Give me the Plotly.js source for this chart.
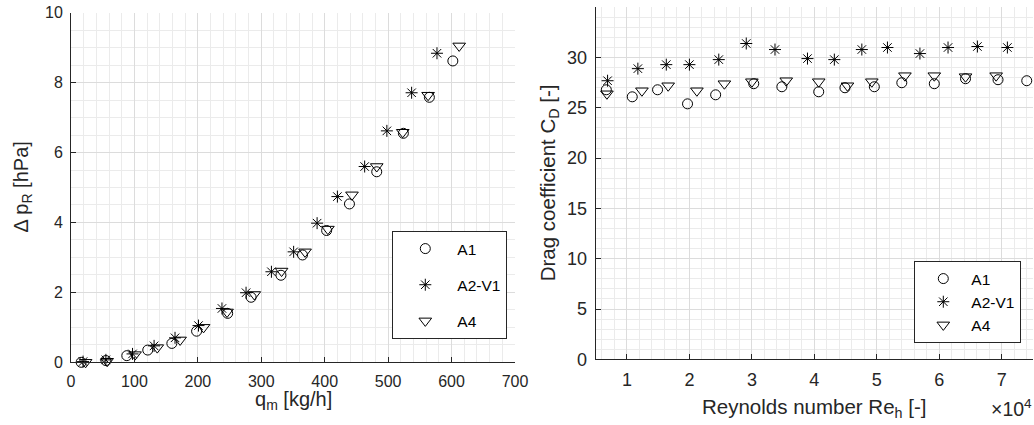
<!DOCTYPE html>
<html><head><meta charset="utf-8">
<script src="https://cdn.plot.ly/plotly-3.0.1.min.js"></script>
<style>html,body{margin:0;padding:0;background:#fff}</style>
</head><body><div id="chart" style="width:1034px;height:425px"></div>
<script>
// Left panel: pressure drop vs mass flow
const qA1  = [16, 55, 88, 121, 159, 198, 247, 284, 331, 365, 403, 439, 482, 524, 565, 602];
const dpA1 = [0.0, 0.05, 0.19, 0.35, 0.54, 0.89, 1.40, 1.86, 2.49, 3.07, 3.77, 4.53, 5.45, 6.55, 7.58, 8.62];
const qA2  = [19, 55, 97, 131, 164, 201, 238, 276, 316, 351, 388, 420, 463, 498, 537, 577];
const dpA2 = [0.02, 0.07, 0.24, 0.47, 0.70, 1.05, 1.54, 1.99, 2.59, 3.16, 3.98, 4.74, 5.60, 6.62, 7.71, 8.84];
const qA4  = [23, 57, 101, 136, 172, 209, 246, 289, 332, 369, 405, 443, 482, 523, 563, 612];
const dpA4 = [0.0, 0.03, 0.22, 0.42, 0.64, 1.00, 1.44, 1.94, 2.61, 3.16, 3.81, 4.79, 5.60, 6.58, 7.64, 9.05];

// Right panel: drag coefficient vs Reynolds number
const reA1 = [6700, 10850, 14900, 19700, 24200, 30300, 34800, 40700, 44900, 49600, 54000, 59200, 64200, 69400, 74000];
const cdA1 = [26.8, 26.1, 26.8, 25.4, 26.3, 27.4, 27.1, 26.6, 27.0, 27.1, 27.5, 27.4, 27.9, 27.8, 27.7];
const reA2 = [6900, 11750, 16300, 20000, 24700, 29100, 33700, 38900, 43200, 47600, 51700, 56900, 61400, 66100, 70900];
const cdA2 = [27.7, 28.9, 29.3, 29.3, 29.8, 31.4, 30.8, 29.9, 29.8, 30.8, 31.0, 30.4, 31.0, 31.1, 31.0];
const reA4 = [6800, 12400, 16600, 21200, 25600, 30000, 35500, 40700, 45300, 49200, 54500, 59200, 64200, 69100];
const cdA4 = [26.4, 26.7, 27.2, 26.7, 27.4, 27.6, 27.7, 27.6, 27.2, 27.6, 28.2, 28.2, 28.1, 28.2];

const seriesNames = ['A1', 'A2-V1', 'A4'];
const reTickVals = [10000, 20000, 30000, 40000, 50000, 60000, 70000];
const reTickText = ['1', '2', '3', '4', '5', '6', '7'];

const FONT = 'Liberation Sans, Arial, sans-serif';
const INK = '#262626';
const mk = {
  circle: {symbol: 'circle-open', size: 10, color: '#000', line: {width: 1, color: '#000'}},
  star:   {symbol: 'asterisk-open', size: 10, color: '#000', line: {width: 1, color: '#000'}},
  tri:    {symbol: 'triangle-down-open', size: 11, color: '#000', line: {width: 1, color: '#000'}}
};
function tr(x, y, name, m, xa, ya, leg, grp) {
  return {x: x, y: y, name: name, type: 'scatter', mode: 'markers', marker: m,
          xaxis: xa, yaxis: ya, legend: leg, legendgroup: grp, cliponaxis: false};
}
const data = [
  tr(qA1, dpA1, seriesNames[0], mk.circle, 'x', 'y', 'legend', 'l1'),
  tr(qA2, dpA2, seriesNames[1], mk.star, 'x', 'y', 'legend', 'l2'),
  tr(qA4, dpA4, seriesNames[2], mk.tri, 'x', 'y', 'legend', 'l3'),
  tr(reA1, cdA1, seriesNames[0], mk.circle, 'x2', 'y2', 'legend2', 'r1'),
  tr(reA2, cdA2, seriesNames[1], mk.star, 'x2', 'y2', 'legend2', 'r2'),
  tr(reA4, cdA4, seriesNames[2], mk.tri, 'x2', 'y2', 'legend2', 'r3')
];

function ax(extra, fs) {
  return Object.assign({
    showline: true, linecolor: INK, linewidth: 1, mirror: false,
    ticks: 'inside', ticklen: 5, tickcolor: INK, tickwidth: 1,
    showgrid: true, gridcolor: '#dcdcdc', gridwidth: 1,
    zeroline: false, tickfont: {family: FONT, size: fs, color: INK},
    ticklabelstandoff: 4, fixedrange: true
  }, extra);
}

const W = 1034, H = 425;
const layout = {
  width: W, height: H,
  margin: {l: 0, r: 0, t: 0, b: 0},
  paper_bgcolor: '#fff', plot_bgcolor: '#fff',
  font: {family: FONT, size: 15, color: INK},
  showlegend: true,
  xaxis: ax({domain: [71/W, 515/W], range: [0, 700], dtick: 100, tick0: 0, anchor: 'y',
             minor: {dtick: 20, tick0: 0, showgrid: true, gridcolor: '#ebebeb', gridwidth: 1}}, 16),
  yaxis: ax({domain: [(H-362.3)/H, (H-12.7)/H], range: [0, 10], dtick: 2, tick0: 0, anchor: 'x',
             minor: {dtick: 0.5, tick0: 0, showgrid: true, gridcolor: '#ebebeb', gridwidth: 1}}, 16),
  xaxis2: ax({domain: [595.7/W, 1033/W], range: [5000, 75000], tickmode: 'array',
              tickvals: reTickVals, ticktext: reTickText, anchor: 'y2',
              minor: {dtick: 2000, tick0: 0, showgrid: true, gridcolor: '#ebebeb', gridwidth: 1}}, 18),
  yaxis2: ax({domain: [(H-359.3)/H, (H-7.3)/H], range: [0, 35], tickmode: 'array',
              tickvals: [0, 5, 10, 15, 20, 25, 30], anchor: 'x2',
              minor: {dtick: 1, tick0: 0, showgrid: true, gridcolor: '#ebebeb', gridwidth: 1}}, 18),
  legend: {x: 392.3/W, y: (H-231)/H, xanchor: 'left', yanchor: 'top',
           bordercolor: INK, borderwidth: 1, bgcolor: '#fff',
           font: {family: FONT, size: 15.5, color: '#000'}, tracegroupgap: 13, itemwidth: 54},
  legend2: {x: 914.3/W, y: (H-261)/H, xanchor: 'left', yanchor: 'top',
           bordercolor: INK, borderwidth: 1, bgcolor: '#fff',
           font: {family: FONT, size: 15.5, color: '#000'}, tracegroupgap: 0, itemwidth: 46},
  annotations: [
    {text: 'Δ p<sub>R</sub> [hPa]', xref: 'paper', yref: 'paper', x: 22/W, y: (H-187.5)/H,
     textangle: -90, showarrow: false, xanchor: 'center', yanchor: 'middle', font: {size: 20, color: INK}},
    {text: 'q<sub>m</sub> [kg/h]', xref: 'paper', yref: 'paper', x: 293/W, y: (H-400)/H,
     showarrow: false, xanchor: 'center', yanchor: 'middle', font: {size: 20, color: INK}},
    {text: 'Drag coefficient C<sub>D</sub> [-]', xref: 'paper', yref: 'paper', x: 549/W, y: (H-183.3)/H,
     textangle: -90, showarrow: false, xanchor: 'center', yanchor: 'middle', font: {size: 20.5, color: INK}},
    {text: 'Reynolds number Re<sub>h</sub> [-]', xref: 'paper', yref: 'paper', x: 814/W, y: (H-408)/H,
     showarrow: false, xanchor: 'center', yanchor: 'middle', font: {size: 20.5, color: INK}},
    {text: '×10<sup>4</sup>', xref: 'paper', yref: 'paper', x: 1011/W, y: (H-408)/H,
     showarrow: false, xanchor: 'center', yanchor: 'middle', font: {size: 19.5, color: INK}}
  ]
};
Plotly.newPlot('chart', data, layout, {displayModeBar: false, staticPlot: true});
</script></body></html>
